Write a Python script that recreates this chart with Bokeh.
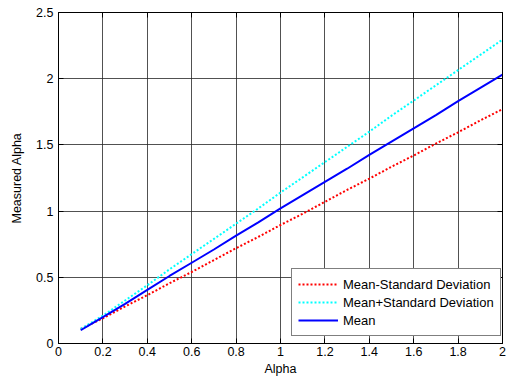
from bokeh.plotting import figure
from bokeh.embed import file_html
from bokeh.resources import INLINE
from bokeh.models import (FixedTicker, CustomJSTickFormatter, LinearAxis, Legend,
                          LegendItem, Range1d)

alpha = [0.1, 0.15, 0.2, 0.3, 0.4, 0.5, 0.6, 0.7, 0.8, 0.9, 1.0,
         1.1, 1.2, 1.3, 1.4, 1.5, 1.6, 1.7, 1.8, 1.9, 2.0]
mean_vals = [0.10, 0.15, 0.20, 0.30, 0.405, 0.51, 0.61, 0.71, 0.815, 0.915, 1.02,
             1.12, 1.22, 1.32, 1.425, 1.525, 1.625, 1.725, 1.83, 1.93, 2.03]
plus_sd = [0.11, 0.16, 0.21, 0.325, 0.44, 0.56, 0.675, 0.79, 0.905, 1.02, 1.14,
           1.255, 1.37, 1.485, 1.60, 1.72, 1.835, 1.95, 2.065, 2.18, 2.295]
minus_sd = [0.11, 0.15, 0.19, 0.28, 0.365, 0.455, 0.54, 0.63, 0.72, 0.805, 0.895,
            0.98, 1.07, 1.16, 1.245, 1.335, 1.42, 1.51, 1.595, 1.685, 1.77]
x_ticks = [0, 0.2, 0.4, 0.6, 0.8, 1.0, 1.2, 1.4, 1.6, 1.8, 2.0]
y_ticks = [0, 0.5, 1.0, 1.5, 2.0, 2.5]

FONT = "Liberation Sans"

p = figure(width=510, height=381, output_backend="svg", toolbar_location=None,
           x_range=Range1d(0, 2), y_range=Range1d(0, 2.5),
           min_border_left=58, min_border_right=8, min_border_top=12, min_border_bottom=38,
           background_fill_color="white", border_fill_color="white")
p.outline_line_color = "black"
p.outline_line_width = 1

fmt = CustomJSTickFormatter(code="return String(Math.round(tick*10)/10);")
blank = CustomJSTickFormatter(code="return '';")

for ax in [p.xaxis[0], p.yaxis[0]]:
    ax.major_tick_in = 5
    ax.major_tick_out = 0
    ax.minor_tick_in = 0
    ax.minor_tick_out = 0
    ax.axis_line_color = "black"
    ax.major_tick_line_color = "black"
    ax.major_label_text_font = FONT
    ax.major_label_text_font_size = "12.5px"
    ax.major_label_text_color = "black"
    ax.axis_label_text_font = FONT
    ax.axis_label_text_font_size = "12.5px"
    ax.axis_label_text_font_style = "normal"
    ax.axis_label_text_color = "black"
    ax.formatter = fmt

p.xaxis[0].ticker = FixedTicker(ticks=x_ticks)
p.yaxis[0].ticker = FixedTicker(ticks=y_ticks)
p.xaxis[0].axis_label = "Alpha"
p.yaxis[0].axis_label = "Measured Alpha"
p.xaxis[0].major_label_standoff = 3
p.xaxis[0].axis_label_standoff = 3
p.yaxis[0].major_label_standoff = 5
p.yaxis[0].axis_label_standoff = 9

p.xgrid.ticker = FixedTicker(ticks=x_ticks)
p.ygrid.ticker = FixedTicker(ticks=y_ticks)
for g in [p.xgrid[0], p.ygrid[0]]:
    g.grid_line_color = "#262626"
    g.grid_line_alpha = 0.8
    g.grid_line_width = 1

for loc, ticks in [("above", x_ticks), ("right", y_ticks)]:
    ax = LinearAxis(ticker=FixedTicker(ticks=ticks), formatter=blank,
                    major_tick_in=5, major_tick_out=0, minor_tick_in=0, minor_tick_out=0,
                    axis_line_color="black", major_tick_line_color="black",
                    major_label_standoff=0)
    p.add_layout(ax, loc)

r_minus = p.line(alpha, minus_sd, line_color="red", line_width=2, line_dash="2 2")
r_plus = p.line(alpha, plus_sd, line_color="cyan", line_width=2, line_dash="2 2")
r_mean = p.line(alpha, mean_vals, line_color="blue", line_width=2)

legend = Legend(items=[LegendItem(label="Mean-Standard Deviation", renderers=[r_minus]),
                       LegendItem(label="Mean+Standard Deviation", renderers=[r_plus]),
                       LegendItem(label="Mean", renderers=[r_mean])],
                location=(233, 7), orientation="vertical")
legend.label_text_font = FONT
legend.label_text_font_size = "13px"
legend.label_text_color = "black"
legend.glyph_width = 40
legend.glyph_height = 18
legend.label_height = 18
legend.spacing = 0
legend.padding = 6
legend.margin = 0
legend.label_standoff = 5
legend.border_line_color = "black"
legend.border_line_width = 1
legend.background_fill_color = "white"
legend.background_fill_alpha = 1
p.add_layout(legend, "center")

open("out.html", "w").write(file_html(p, INLINE))
